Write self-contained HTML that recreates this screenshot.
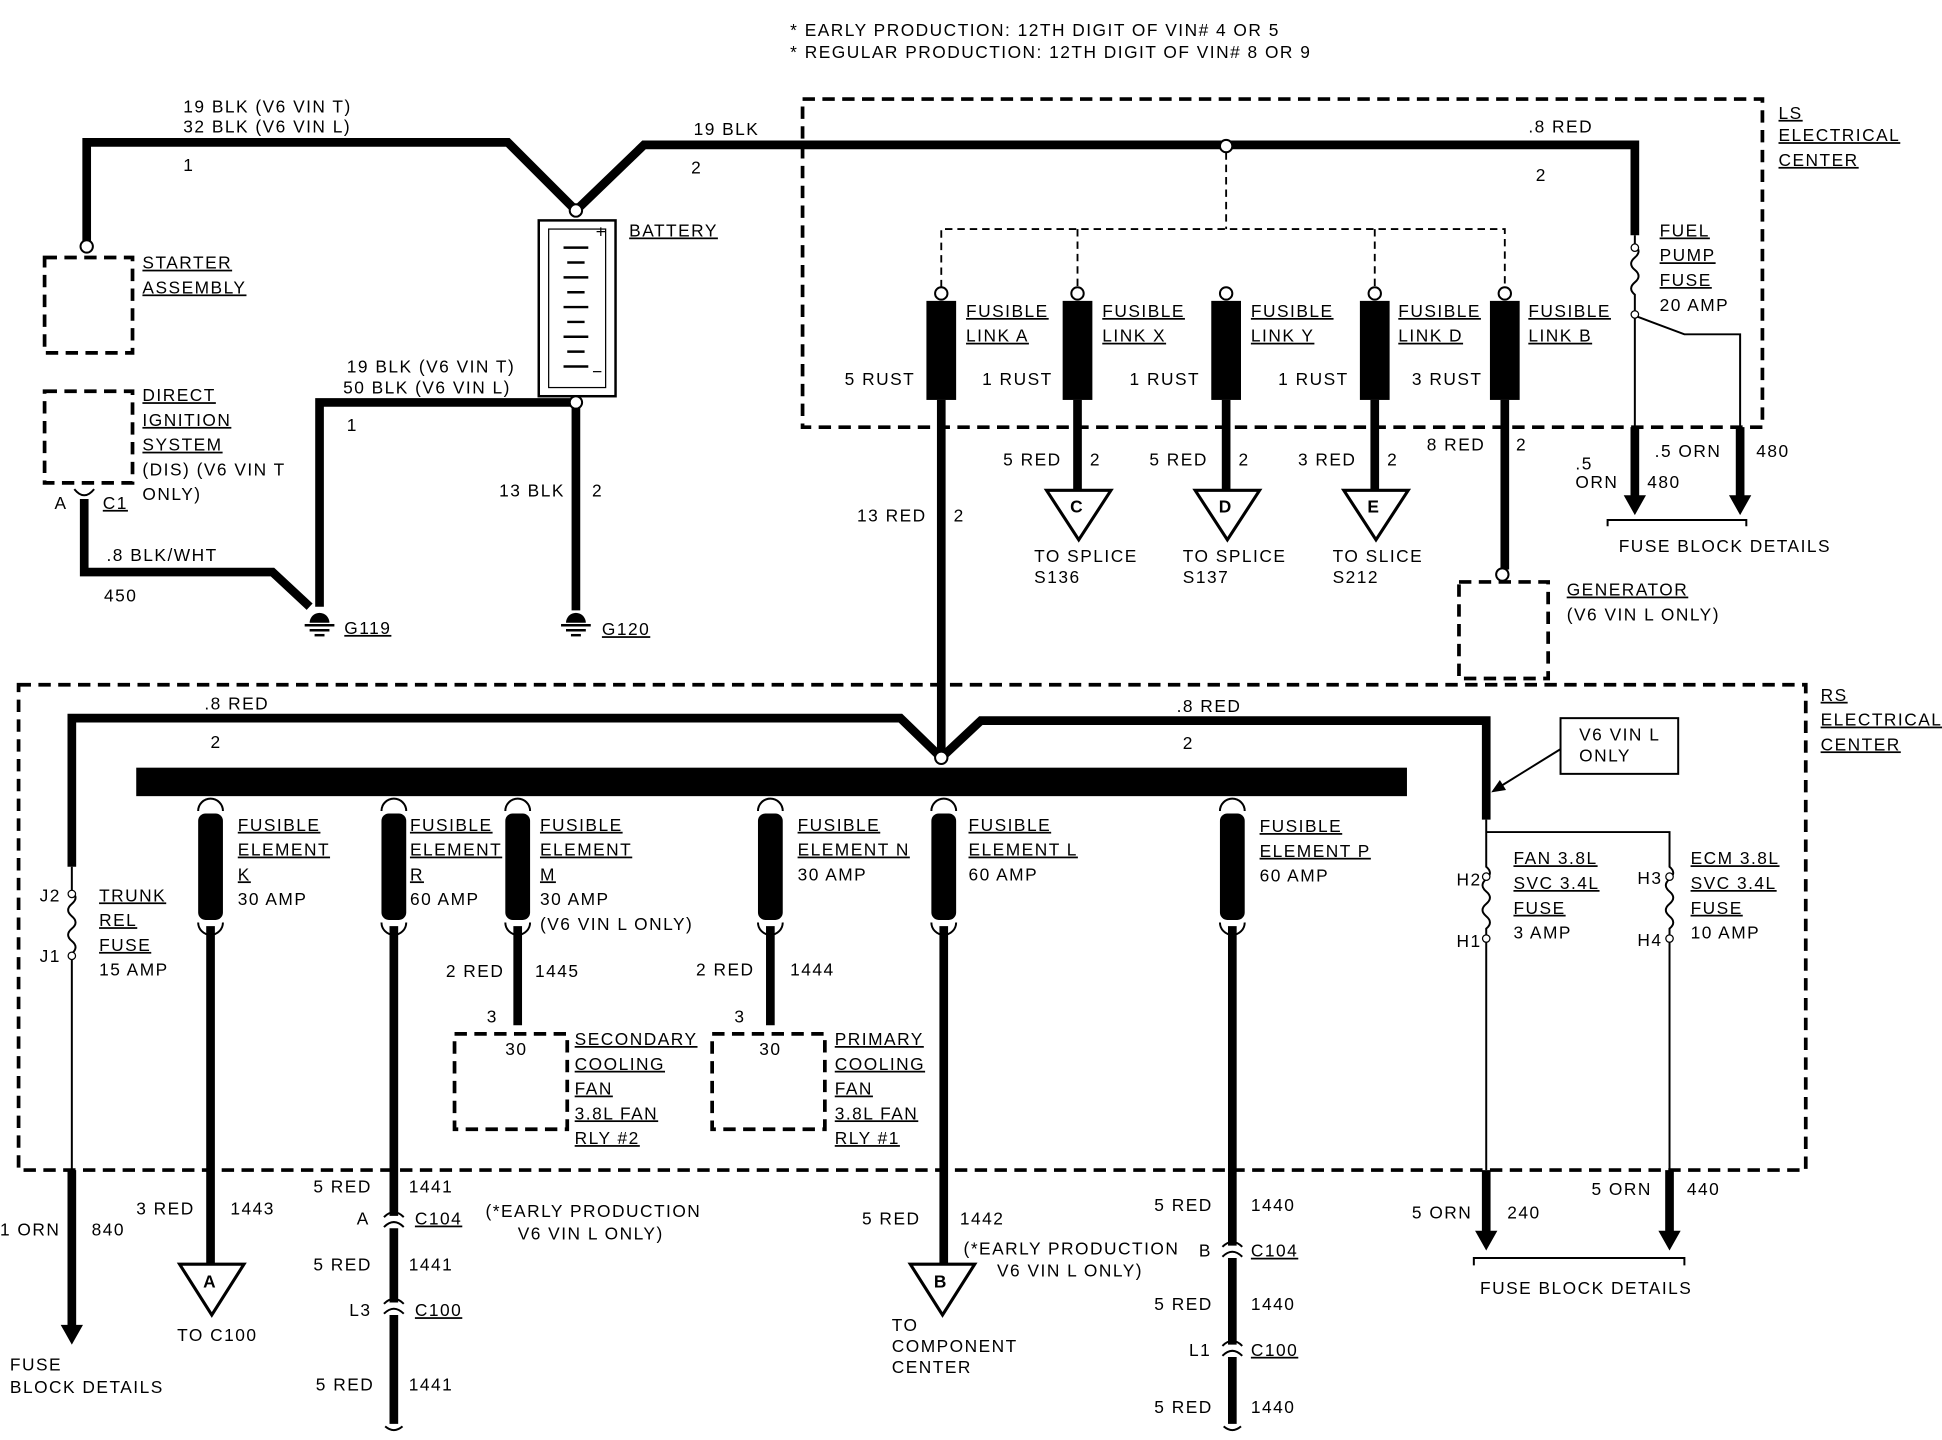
<!DOCTYPE html>
<html><head><meta charset="utf-8"><style>
html,body{margin:0;padding:0;background:#fff;}
svg{display:block}
text{font-family:"Liberation Sans",sans-serif;font-size:14px;fill:#000;letter-spacing:1.2px;}
.u{text-decoration:underline}
.t{stroke:#000;stroke-width:7;fill:none}
.n{stroke:#000;stroke-width:1.6;fill:none}
.d{stroke:#000;stroke-width:3;fill:none;stroke-dasharray:10 6}
.dl{stroke:#000;stroke-width:1.5;fill:none;stroke-dasharray:6 4}
</style></head><body>
<svg width="1942" height="1440" viewBox="0 0 1568 1163" preserveAspectRatio="none" xmlns="http://www.w3.org/2000/svg">
<defs>
<g id="gnd"><path d="M-8,0 a8,8 0 0 1 16,0 z" fill="#000"/><line x1="-12" y1="2" x2="12" y2="2" stroke="#000" stroke-width="2"/><line x1="-8" y1="6" x2="8" y2="6" stroke="#000" stroke-width="2"/><line x1="-4" y1="10" x2="4" y2="10" stroke="#000" stroke-width="2"/></g>
<g id="fe"><path d="M-10,10 a10,10 0 0 1 20,0" class="n" stroke-width="2"/><rect x="-10" y="12" width="20" height="86" rx="6" fill="#000"/><path d="M-10,100 a10,10 0 0 0 20,0" class="n" stroke-width="2"/></g>
<g id="cn"><path d="M-8,-3 q8,-8 16,0 M-8,5 q8,-8 16,0" class="n" stroke-width="2"/></g>
</defs>
<text x="638" y="29" font-size="13">* EARLY PRODUCTION: 12TH DIGIT OF VIN# 4 OR 5</text>
<text x="638" y="47" font-size="13">* REGULAR PRODUCTION: 12TH DIGIT OF VIN# 8 OR 9</text>
<path class="t" d="M70,195 V115 H410 L465,170 L520,117 H1320 V190"/>
<circle cx="70" cy="199" r="5" fill="#fff" stroke="#000" stroke-width="1.6"/>
<circle cx="465" cy="170" r="5" fill="#fff" stroke="#000" stroke-width="1.6"/>
<circle cx="990" cy="118" r="5" fill="#fff" stroke="#000" stroke-width="1.6"/>
<text x="148" y="91">19 BLK (V6 VIN T)</text><text x="148" y="107">32 BLK (V6 VIN L)</text>
<text x="148" y="138">1</text><text x="560" y="109">19 BLK</text><text x="558" y="140">2</text>
<text x="1234" y="107">.8 RED</text><text x="1240" y="146">2</text>
<rect x="36" y="208" width="71" height="77" class="d"/>
<text x="115" y="217" class="u">STARTER</text><text x="115" y="237" class="u">ASSEMBLY</text>
<rect x="435" y="178" width="62" height="142" fill="#fff" stroke="#000" stroke-width="2"/>
<rect x="443" y="185" width="46" height="128" fill="none" stroke="#000" stroke-width="1"/>
<g stroke="#000" stroke-width="2">
<line x1="455" y1="200" x2="475" y2="200"/><line x1="458" y1="212" x2="472" y2="212"/>
<line x1="455" y1="224" x2="475" y2="224"/><line x1="458" y1="236" x2="472" y2="236"/>
<line x1="455" y1="248" x2="475" y2="248"/><line x1="458" y1="260" x2="472" y2="260"/>
<line x1="455" y1="272" x2="475" y2="272"/><line x1="458" y1="284" x2="472" y2="284"/>
<line x1="455" y1="296" x2="475" y2="296"/></g>
<text x="481" y="192" font-size="11">+</text><text x="478" y="305" font-size="11">−</text>
<text x="508" y="191" class="u">BATTERY</text>
<path class="t" d="M465,325 V493 M465,325 H258 V490"/>
<circle cx="465" cy="325" r="5" fill="#fff" stroke="#000" stroke-width="1.6"/>
<text x="280" y="301">19 BLK (V6 VIN T)</text><text x="277" y="318">50 BLK (V6 VIN L)</text>
<text x="280" y="348">1</text><text x="403" y="401">13 BLK</text><text x="478" y="401">2</text>
<use href="#gnd" x="465" y="503"/><text x="486" y="513" class="u">G120</text>
<use href="#gnd" x="258" y="503"/><text x="278" y="512" class="u">G119</text>
<rect x="36" y="316" width="71" height="74" class="d"/>
<text x="115" y="324" class="u">DIRECT</text><text x="115" y="344" class="u">IGNITION</text>
<text x="115" y="364" class="u">SYSTEM</text><text x="115" y="384">(DIS) (V6 VIN T</text><text x="115" y="404">ONLY)</text>
<text x="44" y="411">A</text><text x="83" y="411" class="u">C1</text>
<path d="M60,395 q8,10 16,0" class="n" stroke-width="2"/>
<path class="t" d="M68,403 V462 H220 L250,490"/>
<text x="86" y="453">.8 BLK/WHT</text><text x="84" y="486">450</text>
<rect x="648" y="80" width="775" height="265" class="d"/>
<text x="1436" y="96" class="u">LS</text><text x="1436" y="114" class="u">ELECTRICAL</text><text x="1436" y="134" class="u">CENTER</text>
<path class="dl" d="M990,123 V185 M760,232 V185 H1215 V232 M870,185 V232 M1110,185 V232"/>
<g fill="#000">
<rect x="748" y="243" width="24" height="80"/><rect x="858" y="243" width="24" height="80"/>
<rect x="978" y="243" width="24" height="80"/><rect x="1098" y="243" width="24" height="80"/>
<rect x="1203" y="243" width="24" height="80"/></g>
<g fill="#fff" stroke="#000" stroke-width="1.6">
<circle cx="760" cy="237" r="5"/><circle cx="870" cy="237" r="5"/><circle cx="990" cy="237" r="5"/><circle cx="1110" cy="237" r="5"/><circle cx="1215" cy="237" r="5"/></g>
<text x="780" y="256" class="u">FUSIBLE</text><text x="780" y="276" class="u">LINK A</text>
<text x="890" y="256" class="u">FUSIBLE</text><text x="890" y="276" class="u">LINK X</text>
<text x="1010" y="256" class="u">FUSIBLE</text><text x="1010" y="276" class="u">LINK Y</text>
<text x="1129" y="256" class="u">FUSIBLE</text><text x="1129" y="276" class="u">LINK D</text>
<text x="1234" y="256" class="u">FUSIBLE</text><text x="1234" y="276" class="u">LINK B</text>
<text x="682" y="311">5 RUST</text><text x="793" y="311">1 RUST</text><text x="912" y="311">1 RUST</text>
<text x="1032" y="311">1 RUST</text><text x="1140" y="311">3 RUST</text>
<path class="t" d="M760,323 V612 M870,323 V395 M990,323 V395 M1110,323 V395 M1215,323 V460"/>
<text x="692" y="421">13 RED</text><text x="770" y="421">2</text>
<g fill="#fff" stroke="#000" stroke-width="2.5">
<path d="M845,396 H897 L871,436 Z"/><path d="M965,396 H1017 L991,436 Z"/><path d="M1085,396 H1137 L1111,436 Z"/></g>
<text x="864" y="414" font-size="15" font-weight="bold">C</text><text x="984" y="414" font-size="15" font-weight="bold">D</text><text x="1104" y="414" font-size="15" font-weight="bold">E</text>
<text x="810" y="376">5 RED</text><text x="880" y="376">2</text>
<text x="928" y="376">5 RED</text><text x="1000" y="376">2</text>
<text x="1048" y="376">3 RED</text><text x="1120" y="376">2</text>
<text x="835" y="454">TO SPLICE</text><text x="835" y="471">S136</text>
<text x="955" y="454">TO SPLICE</text><text x="955" y="471">S137</text>
<text x="1076" y="454">TO SLICE</text><text x="1076" y="471">S212</text>
<text x="1152" y="364">8 RED</text><text x="1224" y="364">2</text>
<circle cx="1213" cy="464" r="5" fill="#fff" stroke="#000" stroke-width="1.6"/>
<rect x="1178" y="470" width="72" height="78" class="d"/>
<text x="1265" y="481" class="u">GENERATOR</text><text x="1265" y="501">(V6 VIN L ONLY)</text>
<path class="n" d="M1320,190 V198 q6,5 0,10 q-6,5 0,10 q6,5 0,10 q-6,5 0,10 V345 M1320,255 L1360,270 H1405 V345"/>
<circle cx="1320" cy="200" r="3" fill="#fff" stroke="#000"/><circle cx="1320" cy="254" r="3" fill="#fff" stroke="#000"/>
<path class="t" d="M1320,345 V402 M1405,345 V402"/>
<path d="M1311,400 h18 l-9,16 z M1396,400 h18 l-9,16 z" fill="#000"/>
<text x="1340" y="191" class="u">FUEL</text><text x="1340" y="211" class="u">PUMP</text><text x="1340" y="231" class="u">FUSE</text><text x="1340" y="251">20 AMP</text>
<text x="1272" y="379">.5</text><text x="1272" y="394">ORN</text><text x="1330" y="394">480</text>
<text x="1336" y="369">.5 ORN</text><text x="1418" y="369">480</text>
<path class="n" d="M1298,425 V420 H1410 V425"/><text x="1307" y="446">FUSE BLOCK DETAILS</text>
<rect x="15" y="553" width="1443" height="392" class="d"/>
<text x="1470" y="566" class="u">RS</text><text x="1470" y="586" class="u">ELECTRICAL</text><text x="1470" y="606" class="u">CENTER</text>
<rect x="110" y="620" width="1026" height="23" fill="#000"/>
<path class="t" d="M58,700 V580 H727 L760,612 L792,582 H1200 V662"/>
<circle cx="760" cy="612" r="5" fill="#fff" stroke="#000" stroke-width="1.6"/>
<text x="165" y="573">.8 RED</text><text x="170" y="604">2</text><text x="950" y="575">.8 RED</text><text x="955" y="605">2</text>
<rect x="1260" y="580" width="95" height="45" fill="#fff" stroke="#000" stroke-width="1.6"/>
<text x="1275" y="598">V6  VIN L</text><text x="1275" y="615">ONLY</text>
<path class="n" d="M1260,605 L1210,636"/><path d="M1204,640 l12,-2 l-5,-8 z" fill="#000"/>
<use href="#fe" x="170" y="645"/><use href="#fe" x="318" y="645"/><use href="#fe" x="418" y="645"/>
<use href="#fe" x="622" y="645"/><use href="#fe" x="762" y="645"/><use href="#fe" x="995" y="645"/>
<text x="192" y="671" class="u">FUSIBLE</text><text x="192" y="691" class="u">ELEMENT</text><text x="192" y="711" class="u">K</text><text x="192" y="731">30 AMP</text>
<text x="331" y="671" class="u">FUSIBLE</text><text x="331" y="691" class="u">ELEMENT</text><text x="331" y="711" class="u">R</text><text x="331" y="731">60 AMP</text>
<text x="436" y="671" class="u">FUSIBLE</text><text x="436" y="691" class="u">ELEMENT</text><text x="436" y="711" class="u">M</text><text x="436" y="731">30 AMP</text><text x="436" y="751">(V6 VIN L ONLY)</text>
<text x="644" y="671" class="u">FUSIBLE</text><text x="644" y="691" class="u">ELEMENT N</text><text x="644" y="711">30 AMP</text>
<text x="782" y="671" class="u">FUSIBLE</text><text x="782" y="691" class="u">ELEMENT L</text><text x="782" y="711">60 AMP</text>
<text x="1017" y="672" class="u">FUSIBLE</text><text x="1017" y="692" class="u">ELEMENT P</text><text x="1017" y="712">60 AMP</text>
<path class="t" d="M170,748 V1020"/>
<path d="M145,1021 H197 L171,1062 Z" fill="#fff" stroke="#000" stroke-width="2.5"/><text x="164" y="1040" font-size="15" font-weight="bold">A</text>
<text x="110" y="981">3 RED</text><text x="186" y="981">1443</text><text x="143" y="1083">TO C100</text>
<path class="t" d="M318,748 V982 M318,992 V1052 M318,1062 V1150"/>
<use href="#cn" x="318" y="986"/><use href="#cn" x="318" y="1056"/><path d="M311,1152 q7,6 14,0" class="n" stroke-width="2"/>
<text x="253" y="963">5 RED</text><text x="330" y="963">1441</text><text x="288" y="989">A</text><text x="335" y="989" class="u">C104</text>
<text x="253" y="1026">5 RED</text><text x="330" y="1026">1441</text><text x="282" y="1063">L3</text><text x="335" y="1063" class="u">C100</text>
<text x="255" y="1123">5 RED</text><text x="330" y="1123">1441</text>
<text x="392" y="983">(*EARLY PRODUCTION</text><text x="418" y="1001">V6 VIN L ONLY)</text>
<path class="t" d="M418,748 V828 M622,748 V828"/>
<text x="360" y="789">2 RED</text><text x="432" y="789">1445</text><text x="393" y="826">3</text>
<text x="562" y="788">2 RED</text><text x="638" y="788">1444</text><text x="593" y="826">3</text>
<rect x="367" y="835" width="91" height="77" class="d"/><rect x="575" y="835" width="91" height="77" class="d"/>
<text x="408" y="852">30</text><text x="613" y="852">30</text>
<text x="464" y="844" class="u">SECONDARY</text><text x="464" y="864" class="u">COOLING</text><text x="464" y="884" class="u">FAN</text><text x="464" y="904" class="u">3.8L FAN</text><text x="464" y="924" class="u">RLY #2</text>
<text x="674" y="844" class="u">PRIMARY</text><text x="674" y="864" class="u">COOLING</text><text x="674" y="884" class="u">FAN</text><text x="674" y="904" class="u">3.8L FAN</text><text x="674" y="924" class="u">RLY #1</text>
<path class="t" d="M762,748 V1020"/>
<path d="M735,1021 H787 L761,1062 Z" fill="#fff" stroke="#000" stroke-width="2.5"/><text x="754" y="1040" font-size="15" font-weight="bold">B</text>
<text x="696" y="989">5 RED</text><text x="775" y="989">1442</text>
<text x="778" y="1013">(*EARLY PRODUCTION</text><text x="805" y="1031">V6 VIN L ONLY)</text>
<text x="720" y="1075">TO</text><text x="720" y="1092">COMPONENT</text><text x="720" y="1109">CENTER</text>
<path class="t" d="M995,748 V1006 M995,1016 V1086 M995,1096 V1150"/>
<use href="#cn" x="995" y="1010"/><use href="#cn" x="995" y="1090"/><path d="M988,1152 q7,6 14,0" class="n" stroke-width="2"/>
<text x="932" y="978">5 RED</text><text x="1010" y="978">1440</text><text x="968" y="1015">B</text><text x="1010" y="1015" class="u">C104</text>
<text x="932" y="1058">5 RED</text><text x="1010" y="1058">1440</text><text x="960" y="1095">L1</text><text x="1010" y="1095" class="u">C100</text>
<text x="932" y="1141">5 RED</text><text x="1010" y="1141">1440</text>
<path class="n" d="M58,700 V720 q6,5 0,10 q-6,5 0,10 q6,5 0,10 q-6,5 0,10 q6,5 0,10 V945"/>
<circle cx="58" cy="722" r="3" fill="#fff" stroke="#000"/><circle cx="58" cy="772" r="3" fill="#fff" stroke="#000"/>
<path class="t" d="M58,945 V1072"/><path d="M49,1070 h18 l-9,16 z" fill="#000"/>
<text x="32" y="728">J2</text><text x="32" y="777">J1</text>
<text x="80" y="728" class="u">TRUNK</text><text x="80" y="748" class="u">REL</text><text x="80" y="768" class="u">FUSE</text><text x="80" y="788">15 AMP</text>
<text x="0" y="998">1 ORN</text><text x="74" y="998">840</text>
<text x="8" y="1107">FUSE</text><text x="8" y="1125">BLOCK DETAILS</text>
<path class="n" d="M1200,662 V700 q6,5 0,10 q-6,5 0,10 q6,5 0,10 q-6,5 0,10 q6,5 0,10 V945 M1200,672 H1348 V700 q6,5 0,10 q-6,5 0,10 q6,5 0,10 q-6,5 0,10 q6,5 0,10 V945"/>
<circle cx="1200" cy="708" r="3" fill="#fff" stroke="#000"/><circle cx="1200" cy="758" r="3" fill="#fff" stroke="#000"/>
<circle cx="1348" cy="708" r="3" fill="#fff" stroke="#000"/><circle cx="1348" cy="758" r="3" fill="#fff" stroke="#000"/>
<text x="1176" y="715">H2</text><text x="1176" y="765">H1</text><text x="1322" y="714">H3</text><text x="1322" y="764">H4</text>
<text x="1222" y="698" class="u">FAN 3.8L</text><text x="1222" y="718" class="u">SVC 3.4L</text><text x="1222" y="738" class="u">FUSE</text><text x="1222" y="758">3 AMP</text>
<text x="1365" y="698" class="u">ECM 3.8L</text><text x="1365" y="718" class="u">SVC 3.4L</text><text x="1365" y="738" class="u">FUSE</text><text x="1365" y="758">10 AMP</text>
<path class="t" d="M1200,945 V996 M1348,945 V996"/>
<path d="M1191,994 h18 l-9,16 z M1339,994 h18 l-9,16 z" fill="#000"/>
<text x="1140" y="984">5 ORN</text><text x="1217" y="984">240</text><text x="1285" y="965">5 ORN</text><text x="1362" y="965">440</text>
<path class="n" d="M1190,1022 V1016 H1360 V1022"/><text x="1195" y="1045">FUSE BLOCK DETAILS</text>
</svg>
</body></html>
